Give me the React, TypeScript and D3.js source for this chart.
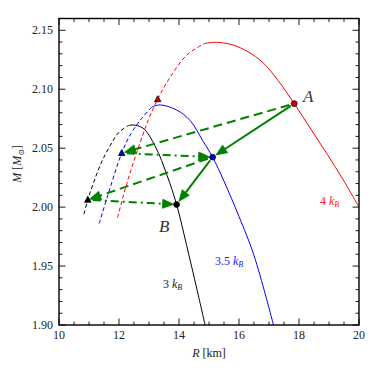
import React from 'react';
import * as d3 from 'd3';

// axis ticks
const xTicks = [10, 12, 14, 16, 18, 20];
const yTicks = [1.9, 1.95, 2.0, 2.05, 2.1, 2.15];

// M(R) curves, [R km, M Msun]; dashed = unstable branch
const black3Dashed = [[10.83, 1.994], [10.96, 2.0062], [11.1, 2.017], [11.4, 2.037], [11.7, 2.052], [12.0, 2.0635], [12.3, 2.069]];
const black3Solid = [[12.3, 2.069], [12.45, 2.0697], [12.8, 2.067], [13.22, 2.051], [13.6, 2.027], [13.92, 2.0022], [14.25, 1.968], [14.6, 1.93], [14.87, 1.9]];
const blue35Dashed = [[11.34, 1.986], [11.7, 2.016], [12.09, 2.0458], [12.4, 2.0625], [12.76, 2.0754], [13.09, 2.0848]];
const blue35Solid = [[13.09, 2.0848], [13.37, 2.0867], [13.92, 2.0824], [14.37, 2.0735], [14.8, 2.056], [15.12, 2.0424], [15.5, 2.022], [16.0, 1.992], [16.5, 1.959], [17.15, 1.9]];
const red4Dashed = [[11.95, 1.991], [12.26, 2.02], [12.64, 2.05], [12.98, 2.074], [13.29, 2.0915], [13.7, 2.11], [14.26, 2.129], [14.87, 2.139]];
const red4Solid = [[14.87, 2.139], [15.26, 2.1398], [15.8, 2.1375], [16.3, 2.1318], [16.8, 2.1225], [17.3, 2.1075], [17.84, 2.0878], [18.4, 2.066], [18.95, 2.0445], [19.5, 2.022], [20.0, 2.0]];

// marked states
const pointA = [17.84, 2.0878];
const pointBlue = [15.12, 2.0424];
const pointB = [13.92, 2.0022];
const triRed = [13.29, 2.0915];
const triBlue = [12.09, 2.0458];
const triBlack = [10.96, 2.0062];

const W = 374;
const H = 374;
const x = d3.scaleLinear().domain([10, 20]).range([59, 359]);
const y = d3.scaleLinear().domain([1.9, 2.16]).range([325, 18.5]);

const line = d3
  .line<number[]>()
  .x((d) => x(d[0]))
  .y((d) => y(d[1]))
  .curve(d3.curveCatmullRom.alpha(0.5));

const GREEN = '#008000';
const FONT = "'Liberation Serif', 'DejaVu Serif', serif";

function Arrow({ from, to, dash, shrinkA = 4, shrinkB = 4 }: any) {
  const x1 = x(from[0]);
  const y1 = y(from[1]);
  const x2 = x(to[0]);
  const y2 = y(to[1]);
  const len = Math.hypot(x2 - x1, y2 - y1);
  const ux = (x2 - x1) / len;
  const uy = (y2 - y1) / len;
  const sx = x1 + ux * shrinkA;
  const sy = y1 + uy * shrinkA;
  const tx = x2 - ux * shrinkB;
  const ty = y2 - uy * shrinkB;
  const hl = 11;
  const hw = 4.5;
  const bx = tx - ux * hl;
  const by = ty - uy * hl;
  const head = [
    [tx, ty],
    [bx - uy * hw, by + ux * hw],
    [bx + uy * hw, by - ux * hw],
  ];
  return (
    <g>
      <line x1={sx} y1={sy} x2={bx + ux * 2} y2={by + uy * 2} stroke={GREEN} strokeWidth={2} strokeDasharray={dash} />
      <polygon points={head.map((p) => p.join(',')).join(' ')} fill={GREEN} stroke={GREEN} strokeWidth={0.8} />
    </g>
  );
}

function Tri({ p, fill }: any) {
  const cx = x(p[0]);
  const cy = y(p[1]);
  const s = 3.2;
  const pts = [
    [cx, cy - s * 1.1],
    [cx - s, cy + s * 0.75],
    [cx + s, cy + s * 0.75],
  ];
  return <polygon points={pts.map((q) => q.join(',')).join(' ')} fill={fill} stroke="#000" strokeWidth={0.8} />;
}

export default function App() {
  const xMinor = d3.range(10, 20.001, 0.5);
  const yMinor = d3.range(1.9, 2.1601, 0.01);
  const dashed = '4,2.6';
  const txt = { fontFamily: FONT };
  return (
    <svg width={W} height={H} style={{ position: 'absolute', left: 0, top: 0, background: '#fff', fontFamily: FONT }}>
      <defs>
        <clipPath id="plot">
          <rect x={59} y={18.5} width={300} height={306.5} />
        </clipPath>
      </defs>
      <g clipPath="url(#plot)" fill="none">
        <path d={line(black3Dashed as any) || ''} stroke="#000" strokeWidth={1} strokeDasharray={dashed} />
        <path d={line(black3Solid as any) || ''} stroke="#000" strokeWidth={1} />
        <path d={line(blue35Dashed as any) || ''} stroke="#0000ff" strokeWidth={1} strokeDasharray={dashed} />
        <path d={line(blue35Solid as any) || ''} stroke="#0000ff" strokeWidth={1} />
        <path d={line(red4Dashed as any) || ''} stroke="#ff0000" strokeWidth={1} strokeDasharray={dashed} />
        <path d={line(red4Solid as any) || ''} stroke="#ff0000" strokeWidth={1} />
      </g>

      {/* transitions */}
      <Arrow from={pointA} to={triBlue} dash="9,5" shrinkA={5} shrinkB={3} />
      <Arrow from={triBlue} to={pointBlue} dash="8,4,2,4" shrinkA={5} shrinkB={3} />
      <Arrow from={pointBlue} to={triBlack} dash="9,5" shrinkA={5} shrinkB={2} />
      <Arrow from={triBlack} to={pointB} dash="8,4,2,4" shrinkA={5} shrinkB={3} />
      <Arrow from={pointA} to={pointBlue} shrinkA={4} shrinkB={4} />
      <Arrow from={pointBlue} to={pointB} shrinkA={4} shrinkB={4} />

      <Tri p={triRed} fill="#cc0000" />
      <Tri p={triBlue} fill="#0000cc" />
      <Tri p={triBlack} fill="#000" />
      <circle cx={x(pointA[0])} cy={y(pointA[1])} r={2.9} fill="#e00000" stroke="#000" strokeWidth={0.8} />
      <circle cx={x(pointBlue[0])} cy={y(pointBlue[1])} r={2.9} fill="#0000cc" stroke="#000" strokeWidth={0.8} />
      <circle cx={x(pointB[0])} cy={y(pointB[1])} r={2.9} fill="#000" stroke="#000" strokeWidth={0.8} />

      {/* frame and ticks */}
      <rect x={59} y={18.5} width={300} height={306.5} fill="none" stroke="#000" strokeWidth={1.4} />
      {xMinor.map((v) => {
        const major = Math.abs(v / 2 - Math.round(v / 2)) < 1e-6;
        const l = major ? 6.5 : 3.5;
        return (
          <g key={'x' + v} stroke="#000" strokeWidth={0.9}>
            <line x1={x(v)} x2={x(v)} y1={325} y2={325 - l} />
            <line x1={x(v)} x2={x(v)} y1={18.5} y2={18.5 + l} />
          </g>
        );
      })}
      {yMinor.map((v, i) => {
        const major = i % 5 === 0;
        const l = major ? 6.5 : 3.5;
        return (
          <g key={'y' + i} stroke="#000" strokeWidth={0.9}>
            <line x1={59} x2={59 + l} y1={y(v)} y2={y(v)} />
            <line x1={359} x2={359 - l} y1={y(v)} y2={y(v)} />
          </g>
        );
      })}
      {xTicks.map((v) => (
        <text key={'xt' + v} x={x(v)} y={339} textAnchor="middle" fontSize={12} fill="#222" style={txt}>
          {v}
        </text>
      ))}
      {yTicks.map((v) => (
        <text key={'yt' + v} x={53} y={y(v) + 4} textAnchor="end" fontSize={12} fill="#222" style={txt}>
          {v.toFixed(2)}
        </text>
      ))}

      {/* axis labels */}
      <text x={209} y={357} textAnchor="middle" fontSize={12} fill="#222" style={txt}>
        <tspan fontStyle="italic">R</tspan> [km]
      </text>
      <text transform="translate(21,164) rotate(-90)" textAnchor="middle" fontSize={12} fill="#222" style={txt}>
        <tspan fontStyle="italic">M</tspan> [<tspan fontStyle="italic">M</tspan>
        <tspan fontSize={8} dy={3}>⊙</tspan>
        <tspan dy={-3}>]</tspan>
      </text>

      {/* annotations */}
      <text x={303} y={102} fontSize={17} fontStyle="italic" fill="#333" style={txt}>A</text>
      <text x={159} y={232} fontSize={17} fontStyle="italic" fill="#333" style={txt}>B</text>
      <text x={320} y={205} fontSize={12} fill="#ff2020" style={txt}>
        4 <tspan fontStyle="italic">k</tspan>
        <tspan fontStyle="italic" fontSize={8} dy={2}>B</tspan>
      </text>
      <text x={215} y={265} fontSize={12} fill="#2020ff" style={txt}>
        3.5 <tspan fontStyle="italic">k</tspan>
        <tspan fontStyle="italic" fontSize={8} dy={2}>B</tspan>
      </text>
      <text x={163} y={288} fontSize={12} fill="#222" style={txt}>
        3 <tspan fontStyle="italic">k</tspan>
        <tspan fontStyle="italic" fontSize={8} dy={2}>B</tspan>
      </text>
    </svg>
  );
}
